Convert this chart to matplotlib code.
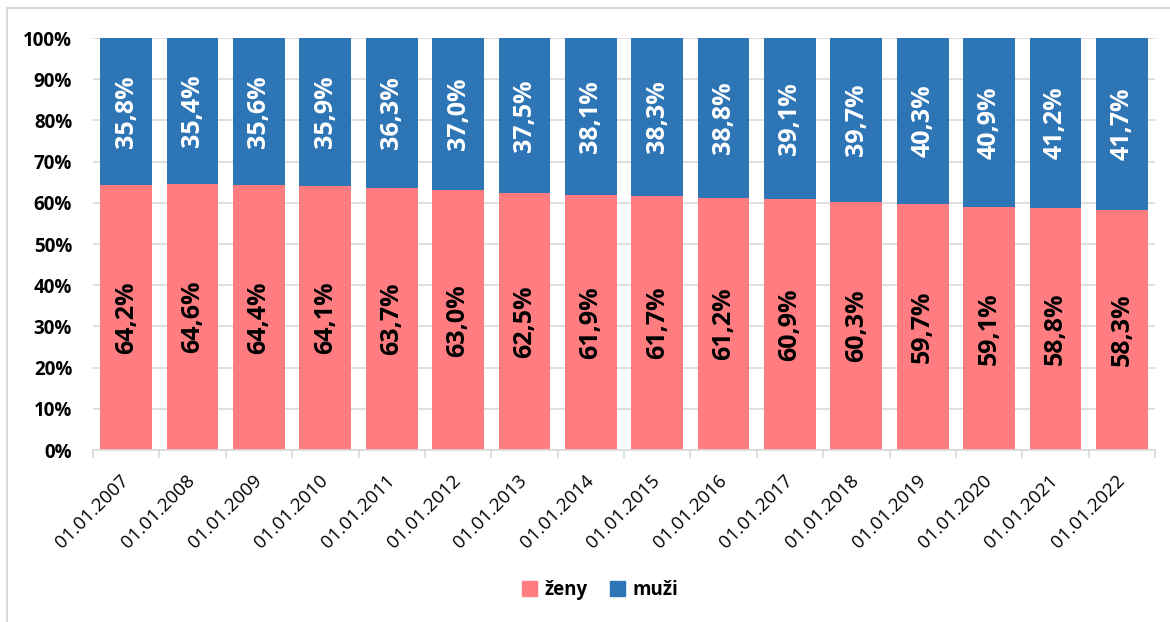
import numpy as np
import matplotlib.pyplot as plt
from matplotlib.lines import Line2D
from matplotlib.patches import Patch

plt.rcParams['font.family'] = ['Open Sans', 'DejaVu Sans']

dates = ['01.01.2007', '01.01.2008', '01.01.2009', '01.01.2010', '01.01.2011',
         '01.01.2012', '01.01.2013', '01.01.2014', '01.01.2015', '01.01.2016',
         '01.01.2017', '01.01.2018', '01.01.2019', '01.01.2020', '01.01.2021',
         '01.01.2022']
zeny = [64.2, 64.6, 64.4, 64.1, 63.7, 63.0, 62.5, 61.9, 61.7, 61.2,
        60.9, 60.3, 59.7, 59.1, 58.8, 58.3]
muzi = [35.8, 35.4, 35.6, 35.9, 36.3, 37.0, 37.5, 38.1, 38.3, 38.8,
        39.1, 39.7, 40.3, 40.9, 41.2, 41.7]

pink = '#FF7C80'
blue = '#2E75B6'
grid = '#D9D9D9'

fig = plt.figure(figsize=(11.7, 6.22), dpi=100)
ax = fig.add_axes([93 / 1170, 1 - 450 / 622, (1155 - 93) / 1170, (450 - 38) / 622])

x = np.arange(len(dates))
z = np.array(zeny)
m = np.array(muzi)
ax.bar(x, z, width=0.78, color=pink, zorder=2)
ax.bar(x, m, width=0.78, bottom=z, color=blue, zorder=2)

for i in x:
    ax.text(i, z[i] / 2, f'{zeny[i]:.1f}%'.replace('.', ','), rotation=90,
            ha='center', va='center', fontsize=18, fontweight='bold', color='black', zorder=3)
    ax.text(i, z[i] + m[i] / 2, f'{muzi[i]:.1f}%'.replace('.', ','), rotation=90,
            ha='center', va='center', fontsize=18, fontweight='bold', color='white', zorder=3)

ax.set_xlim(-0.5, len(dates) - 0.5)
ax.set_ylim(0, 100)
ax.set_yticks(np.arange(0, 101, 10))
ax.set_yticklabels([f'{v}%' for v in range(0, 101, 10)], fontsize=13.5, fontweight='bold')
ax.yaxis.grid(True, color=grid, linewidth=1.2, zorder=0)
ax.tick_params(axis='y', length=0, pad=15)

ax.set_xticks(x)
ax.set_xticklabels(dates, rotation=45, ha='right', va='center', rotation_mode='anchor',
                   fontsize=13.5)
ax.tick_params(axis='x', length=0, pad=20)
ax.set_xticks(np.arange(-0.5, len(dates)), minor=True)
ax.tick_params(axis='x', which='minor', length=6, color=grid, width=1.2)

for s in ['top', 'right', 'left']:
    ax.spines[s].set_visible(False)
ax.spines['bottom'].set_color(grid)
ax.spines['bottom'].set_linewidth(1.2)

handles = [Patch(color=pink, label='ženy'), Patch(color=blue, label='muži')]
fig.legend(handles=handles, loc='center', bbox_to_anchor=(600 / 1170, 1 - 590 / 622),
           ncol=2, frameon=False, prop={'weight': 'bold', 'size': 13.5},
           handlelength=0.8, handleheight=0.8, handletextpad=0.4, columnspacing=1.2)

# chart area border (only top and left visible in crop)
fig.add_artist(Line2D([7 / 1170, 1], [1 - 8 / 622, 1 - 8 / 622], color='#D9D9D9', linewidth=1.5))
fig.add_artist(Line2D([7 / 1170, 7 / 1170], [0, 1 - 8 / 622], color='#D9D9D9', linewidth=1.5))

fig.savefig('out.png', dpi=100)
